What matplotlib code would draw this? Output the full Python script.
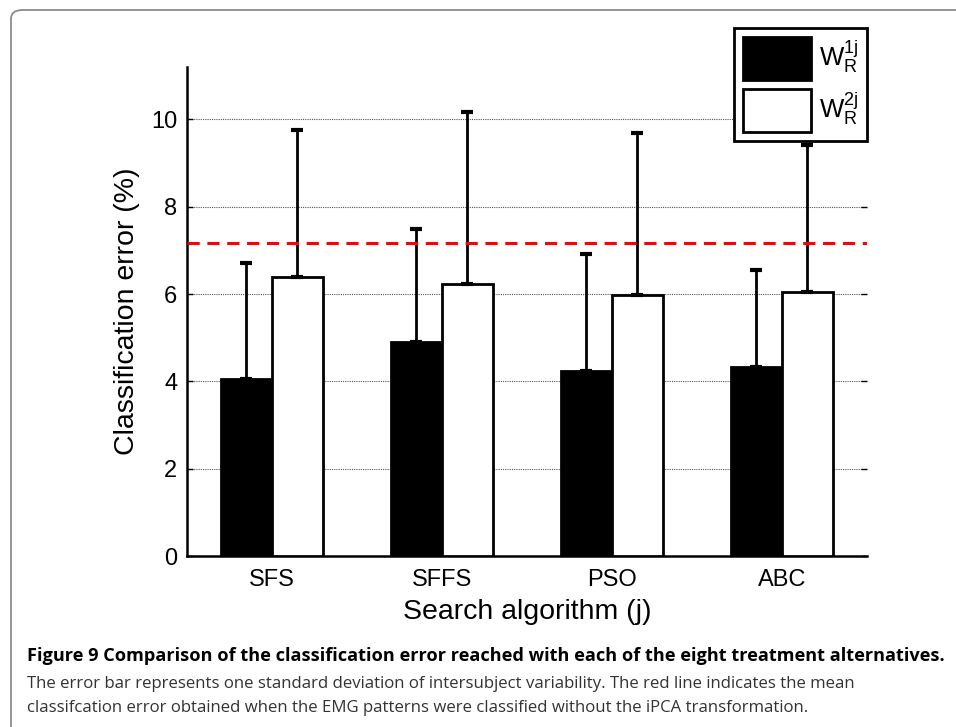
import numpy as np
import matplotlib
matplotlib.use("Agg")
import matplotlib.pyplot as plt
from matplotlib.patches import FancyBboxPatch

algorithms = ["SFS", "SFFS", "PSO", "ABC"]
err_w1 = [4.05, 4.90, 4.23, 4.34]
err_w2 = [6.40, 6.22, 5.97, 6.04]
std_w1 = [2.65, 2.59, 2.69, 2.22]
std_w2 = [3.36, 3.96, 3.71, 3.38]
baseline = 7.16
legend_labels = [r"$\mathrm{W}_\mathrm{R}^\mathrm{1j}$", r"$\mathrm{W}_\mathrm{R}^\mathrm{2j}$"]

caption_bold = "Figure 9 Comparison of the classification error reached with each of the eight treatment alternatives."
caption_rest = ("The error bar represents one standard deviation of intersubject variability. The red line indicates the mean\n"
                "classifcation error obtained when the EMG patterns were classified without the iPCA transformation.")

plt.rcParams["font.family"] = ["Liberation Sans", "DejaVu Sans"]
plt.rcParams["mathtext.fontset"] = "custom"
plt.rcParams["mathtext.rm"] = "Liberation Sans"
plt.rcParams["mathtext.it"] = "Liberation Sans:italic"

fig = plt.figure(figsize=(9.56, 7.27), dpi=100)
ax = fig.add_axes([0.1956, 0.2352, 0.7113, 0.6726])

# outer frame of the figure panel
frame = FancyBboxPatch((11/956, -0.2), 1.2, 1.2 - 10/727, transform=fig.transFigure,
                       boxstyle="round,pad=0,rounding_size=0.012", fc="none", ec="#8c8c8c",
                       lw=1.3, clip_on=False)
fig.patches.append(frame)

x = np.arange(1, len(algorithms) + 1)
w = 0.3
ax.bar(x - w/2, err_w1, w, color="black", edgecolor="black", lw=2, zorder=3, label=legend_labels[0])
ax.bar(x + w/2, err_w2, w, color="white", edgecolor="black", lw=2, zorder=3, label=legend_labels[1])
ax.errorbar(x - w/2, err_w1, yerr=[np.zeros(4), std_w1], fmt="none", ecolor="black",
            elinewidth=2, capsize=4.5, capthick=3, zorder=4)
ax.errorbar(x + w/2, err_w2, yerr=[np.zeros(4), std_w2], fmt="none", ecolor="black",
            elinewidth=2, capsize=4.5, capthick=3, zorder=4)

ax.axhline(baseline, color="#ff0000", ls=(0, (4, 2.5)), lw=2.2, zorder=5)

ax.set_xlim(0.5, 4.5)
ax.set_ylim(0, 11.2)
ax.set_yticks([0, 2, 4, 6, 8, 10])
ax.set_xticks(x)
ax.set_xticklabels(algorithms)
ax.yaxis.grid(True, ls=(0, (1, 1)), color="#555555", lw=0.8, zorder=0)
ax.set_axisbelow(True)
ax.spines["top"].set_visible(False)
ax.spines["right"].set_visible(False)
ax.spines["left"].set_linewidth(1.8)
ax.spines["bottom"].set_linewidth(1.8)
ax.tick_params(axis="y", direction="in", length=4, width=1, labelsize=17, pad=7, right=True)
ax.tick_params(axis="x", length=0, labelsize=17, pad=9)

ax.set_ylabel("Classification error (%)", fontsize=20.5, labelpad=8)
ax.set_xlabel("Search algorithm (j)", fontsize=20.5, labelpad=6)

leg = ax.legend(loc="upper right", bbox_to_anchor=(1.0, 1.08), borderaxespad=0,
                fontsize=18.5, handlelength=2.65, handleheight=2.2, handletextpad=0.3,
                borderpad=0.35, labelspacing=0.35, fancybox=False, framealpha=1)
leg.get_frame().set_edgecolor("black")
leg.get_frame().set_linewidth(2)

fig.text(27/956, 1 - 656/727, caption_bold, fontsize=13.1, fontweight="bold",
         family=["Open Sans", "DejaVu Sans"], va="center", ha="left", color="black")
fig.text(27/956, 1 - 696/727, caption_rest, fontsize=12.1, family=["Open Sans", "DejaVu Sans"],
         va="center", ha="left", color="#333333", linespacing=1.75)

fig.savefig("out.png", dpi=100)
